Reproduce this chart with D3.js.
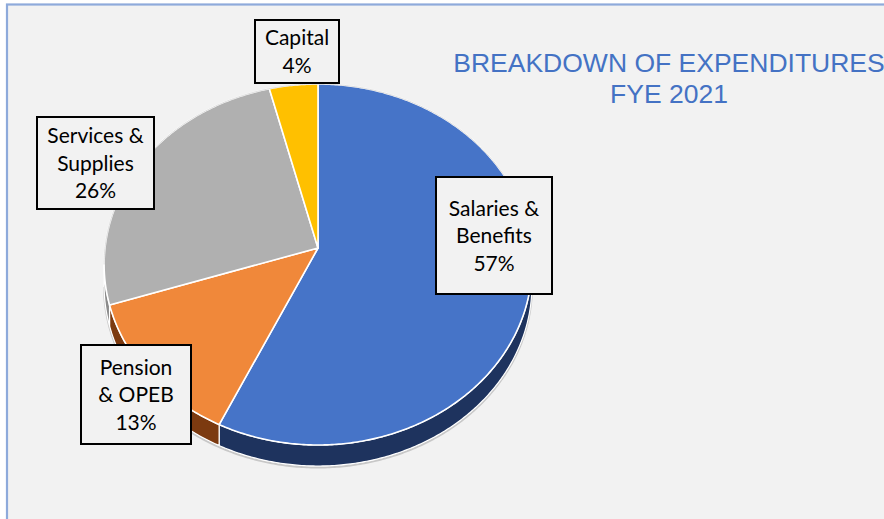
<!DOCTYPE html>
<html><head><meta charset="utf-8">
<script src="https://cdn.jsdelivr.net/npm/d3@7"></script>
<style>html,body{margin:0;padding:0;background:#fff;overflow:hidden}</style>
</head><body>
<svg id="chart" width="884" height="519"></svg>
<script>
// ---- data ----
const categories = ["Salaries & Benefits", "Pension & OPEB", "Services & Supplies", "Capital"];
const values = [57, 13, 26, 4];
const labelLines = [["Salaries &", "Benefits"], ["Pension", "& OPEB"], ["Services &", "Supplies"], ["Capital"]];
const titleLines = ["BREAKDOWN OF EXPENDITURES", "FYE 2021"];

// ---- style / layout ----
const topColors = ["#4674c8", "#f0883a", "#b0b0b0", "#ffc000"];
const sideColors = ["#1e335e", "#7c3a10", "#8a8a8a", "#9a7400"];
const labelCenters = [[494, 235.5], [136, 394.5], [95.5, 163], [297, 51.5]];
const labelSizes = [[116, 117], [110, 99], [117, 92], [84, 63]];

const svg = d3.select("#chart");

svg.append("rect").attr("x", 7).attr("y", 4.5).attr("width", 950).attr("height", 600)
  .attr("fill", "#f2f2f2").attr("stroke", "#8eaadb").attr("stroke-width", 2.2);

// perspective pie projection
const cx = 318, cyV = 248, sR = 213, tR = 179, p = 0.0914, depth = 21;
function proj(phi, h) {
  const w = 1 + p * Math.cos(phi);
  return [cx + sR * Math.sin(phi) / w, cyV - tR * Math.cos(phi) / w + h];
}
const pie = d3.pie().sort(null).value(d => d)(values);
const line = d3.line();
function arcPts(a0, a1, h) {
  const n = Math.max(2, Math.ceil((a1 - a0) / 0.01));
  return d3.range(n + 1).map(i => proj(a0 + (a1 - a0) * i / n, h));
}
const vis0 = Math.acos(-p), vis1 = 2 * Math.PI - Math.acos(-p);

const g = svg.append("g");
g.append("path")
  .attr("d", line(arcPts(vis0, vis1, depth + 1.5)))
  .attr("fill", "none").attr("stroke", "#c8c8c8").attr("stroke-width", 2);

// sides
pie.forEach((s, i) => {
  const a0 = Math.max(s.startAngle, vis0), a1 = Math.min(s.endAngle, vis1);
  if (a1 <= a0) return;
  const pts = arcPts(a0, a1, 0).concat(arcPts(a0, a1, depth).reverse());
  g.append("path").attr("d", line(pts) + "Z")
    .attr("fill", sideColors[i]).attr("stroke", "#ffffff").attr("stroke-width", 1.2)
    .attr("stroke-linejoin", "round");
});
// tops
pie.forEach((s, i) => {
  const pts = [[cx, cyV]].concat(arcPts(s.startAngle, s.endAngle, 0));
  g.append("path").attr("d", line(pts) + "Z")
    .attr("fill", topColors[i]).attr("stroke", "#ffffff").attr("stroke-width", 1.6)
    .attr("stroke-linejoin", "round");
});
// subtle rim on back edge
g.append("path").attr("d", line(arcPts(-vis0, vis0, 0)))
  .attr("fill", "none").attr("stroke", "#c9c9c9").attr("stroke-width", 0.8).attr("opacity", 0.8);

// labels
const total = d3.sum(values);
pie.forEach((s, i) => {
  const [lx, ly] = labelCenters[i], [bw, bh] = labelSizes[i];
  const lg = svg.append("g");
  lg.append("rect").attr("x", lx - bw / 2).attr("y", ly - bh / 2).attr("width", bw).attr("height", bh)
    .attr("fill", "#f2f2f2").attr("stroke", "#000").attr("stroke-width", 2);
  const lines = labelLines[i].concat([Math.round(values[i] / total * 100) + "%"]);
  const lh = 27.5;
  lines.forEach((t, k) => {
    lg.append("text").attr("x", lx).attr("y", ly + (k - (lines.length - 1) / 2) * lh + 7.5)
      .attr("text-anchor", "middle").attr("font-family", "Lato, 'Open Sans', sans-serif")
      .attr("font-size", 21).attr("fill", "#000").text(t);
  });
});

// title
titleLines.forEach((t, k) => {
  svg.append("text").attr("x", 669).attr("y", 72 + k * 31).attr("text-anchor", "middle")
    .attr("font-family", "'Liberation Sans', Arial, sans-serif").attr("font-size", 26.5)
    .attr("fill", "#4472c4").text(t);
});
</script>
</body></html>
